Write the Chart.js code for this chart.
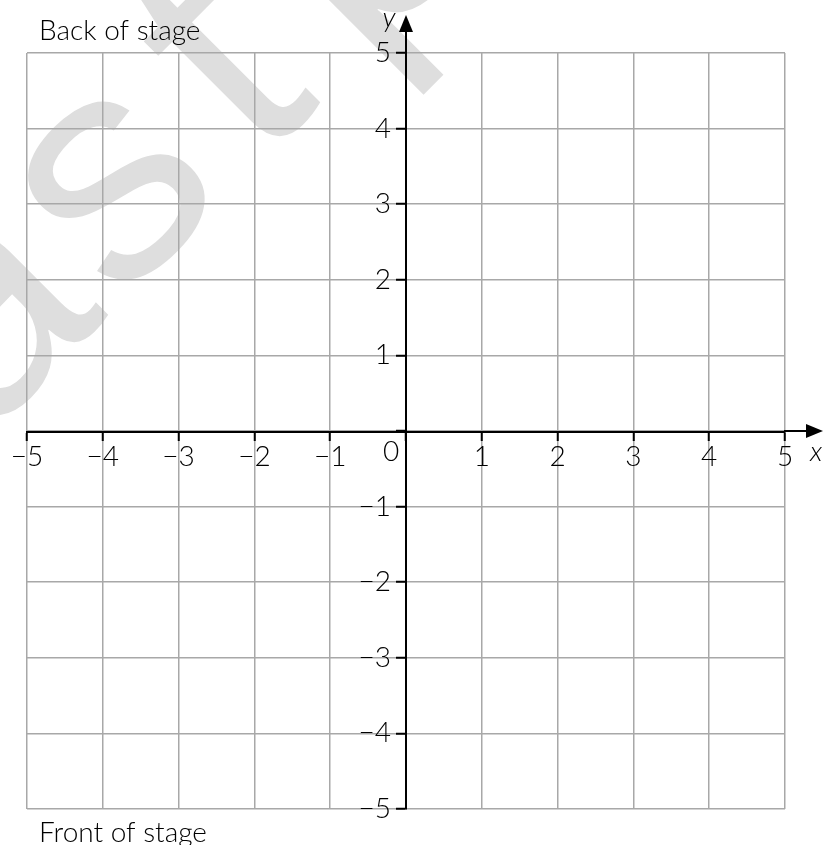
<!DOCTYPE html>
<html>
<head>
<meta charset="utf-8">
<script src="https://cdn.jsdelivr.net/npm/chart.js@4"></script>
<style>
  html, body { margin: 0; padding: 0; background: #fff; }
  #wrap { width: 827px; height: 845px; position: relative; }
</style>
</head>
<body>
<div id="wrap"><canvas id="grid"></canvas></div>
<script>
// axis ranges and tick values
const xRange = [-5, 5];
const yRange = [-5, 5];
const xTicks = [-5, -4, -3, -2, -1, 0, 1, 2, 3, 4, 5];
const yTicks = [-5, -4, -3, -2, -1, 0, 1, 2, 3, 4, 5];
const axisNames = ['x', 'y'];
const originLabel = '0';
const topCaption = 'Back of stage';
const bottomCaption = 'Front of stage';
const watermark = ['a', 's', 't', 'p'];

const FONT = 'Lato, "Open Sans", sans-serif';

// Function to format a tick with a real minus sign, leaving the origin blank
function tickText(value) {
    if (value === 0) return '';
    return value < 0 ? '\u2212' + Math.abs(value) : String(value);
}

// Function to draw a filled arrow head
function arrowHead(ctx, tipX, tipY, dx, dy, len, half) {
    const bx = tipX - dx * len, by = tipY - dy * len;
    ctx.beginPath();
    ctx.moveTo(tipX, tipY);
    ctx.lineTo(bx - dy * half, by + dx * half);
    ctx.lineTo(bx + dy * half, by - dx * half);
    ctx.closePath();
    ctx.fill();
}

// background and faint watermark go under the grid
const backdrop = {
    id: 'backdrop',
    beforeDraw(chart) {
        const ctx = chart.ctx;
        ctx.save();
        ctx.fillStyle = '#fff';
        ctx.fillRect(0, 0, chart.width, chart.height);
        ctx.fillStyle = '#dedede';
        ctx.font = '320px "Liberation Sans", Arial, sans-serif';
        ctx.textAlign = 'center';
        ctx.textBaseline = 'alphabetic';
        ctx.rotate(-Math.PI / 4);
        const centres = [-235, -52, 112, 300];
        watermark.forEach((ch, i) => ctx.fillText(ch, centres[i], 300));
        ctx.restore();
    }
};

// axis extensions, arrows, axis names and captions
const decorations = {
    id: 'decorations',
    afterDraw(chart) {
        const ctx = chart.ctx;
        const xs = chart.scales.x, ys = chart.scales.y;
        const ox = xs.getPixelForValue(0), oy = ys.getPixelForValue(0);
        const area = chart.chartArea;
        ctx.save();
        ctx.strokeStyle = '#000';
        ctx.fillStyle = '#000';
        ctx.lineWidth = 2;
        ctx.beginPath();
        ctx.moveTo(area.right - 1, oy);
        ctx.lineTo(area.right + 26, oy);
        ctx.moveTo(ox, area.top + 1);
        ctx.lineTo(ox, area.top - 26);
        ctx.stroke();
        arrowHead(ctx, area.right + 38, oy, 1, 0, 17, 7);
        arrowHead(ctx, ox, area.top - 38, 0, -1, 17, 7);

        ctx.font = 'italic 300 28px ' + FONT;
        ctx.textAlign = 'center';
        ctx.textBaseline = 'alphabetic';
        ctx.fillText(axisNames[0], area.right + 31, oy + 30);
        ctx.fillText(axisNames[1], ox - 17, area.top - 26);

        ctx.font = '300 28px ' + FONT;
        ctx.fillText(originLabel, ox - 15, oy + 30);

        ctx.textAlign = 'left';
        ctx.font = '300 28px ' + FONT;
        ctx.fillText(topCaption, area.left + 12, area.top - 13);
        ctx.fillText(bottomCaption, area.left + 12, area.bottom + 33);
        ctx.restore();
    }
};

const ctx = document.getElementById('grid').getContext('2d');
const chart = new Chart(ctx, {
    type: 'scatter',
    data: { datasets: [{ data: [] }] },
    plugins: [backdrop, decorations],
    options: {
        responsive: true,
        maintainAspectRatio: false,
        animation: false,
        layout: { padding: { left: 27, right: 42, top: 53, bottom: 36 } },
        plugins: { legend: { display: false }, tooltip: { enabled: false } },
        scales: {
            x: {
                type: 'linear',
                position: 'center',
                min: xRange[0],
                max: xRange[1],
                afterBuildTicks: (scale) => { scale.ticks = xTicks.map(v => ({ value: v })); },
                grid: { color: '#a8a8a8', lineWidth: 1.5, tickLength: 8, tickColor: '#000', tickWidth: 2 },
                border: { color: '#000', width: 2 },
                ticks: {
                    padding: 1,
                    color: '#000',
                    font: { family: FONT, size: 28, weight: 300 },
                    maxRotation: 0,
                    autoSkip: false,
                    callback: tickText
                }
            },
            y: {
                type: 'linear',
                position: 'center',
                min: yRange[0],
                max: yRange[1],
                afterBuildTicks: (scale) => { scale.ticks = yTicks.map(v => ({ value: v })); },
                grid: { color: '#a8a8a8', lineWidth: 1.5, tickLength: 9, tickColor: '#000', tickWidth: 2 },
                border: { color: '#000', width: 2 },
                ticks: {
                    padding: 6,
                    color: '#000',
                    font: { family: FONT, size: 28, weight: 300 },
                    autoSkip: false,
                    callback: tickText
                }
            }
        }
    }
});
</script>
</body>
</html>
